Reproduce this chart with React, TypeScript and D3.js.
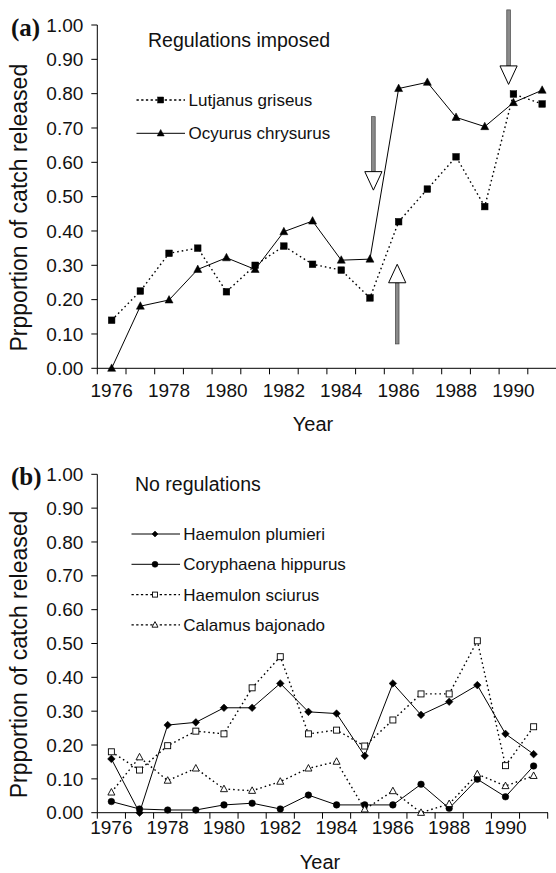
import React from 'react';
import * as d3 from 'd3';

const years = [1976, 1977, 1978, 1979, 1980, 1981, 1982, 1983, 1984, 1985, 1986, 1987, 1988, 1989, 1990, 1991];
const xTickLabels = [1976, 1978, 1980, 1982, 1984, 1986, 1988, 1990];
const yTicks = [0, 0.1, 0.2, 0.3, 0.4, 0.5, 0.6, 0.7, 0.8, 0.9, 1.0];

// Panel (a): regulations imposed
const lutjanus = [0.14, 0.225, 0.335, 0.35, 0.223, 0.30, 0.356, 0.303, 0.286, 0.205, 0.427, 0.522, 0.616, 0.471, 0.799, 0.77];
const ocyurus = [0.0, 0.181, 0.199, 0.288, 0.322, 0.288, 0.398, 0.429, 0.315, 0.318, 0.815, 0.833, 0.731, 0.704, 0.774, 0.81];

// Panel (b): no regulations
const plumieri = [0.159, 0.0, 0.259, 0.267, 0.31, 0.31, 0.382, 0.298, 0.293, 0.168, 0.382, 0.289, 0.328, 0.377, 0.233, 0.173];
const coryphaena = [0.033, 0.011, 0.008, 0.008, 0.023, 0.028, 0.011, 0.052, 0.023, 0.023, 0.023, 0.084, 0.013, 0.099, 0.047, 0.138];
const sciurus = [0.18, 0.126, 0.198, 0.241, 0.233, 0.369, 0.461, 0.233, 0.244, 0.197, 0.274, 0.351, 0.351, 0.508, 0.139, 0.254];
const calamus = [0.06, 0.164, 0.095, 0.131, 0.07, 0.065, 0.092, 0.131, 0.151, 0.01, 0.064, 0.0, 0.026, 0.114, 0.079, 0.109];

const namesA = ['Lutjanus griseus', 'Ocyurus chrysurus'];
const namesB = ['Haemulon plumieri', 'Coryphaena hippurus', 'Haemulon sciurus', 'Calamus bajonado'];

// Arrows in panel (a): fractional year, tail value, tip value
const arrowYears = [1985.12, 1985.95, 1989.83];
const arrowTails = [0.733, 0.071, 1.044];
const arrowTips = [0.519, 0.303, 0.827];

const FONT = '"Liberation Sans", Arial, Helvetica, sans-serif';
const SERIF = '"Liberation Serif", "Times New Roman", serif';

type Marker = 'fsquare' | 'ftriangle' | 'fdiamond' | 'fcircle' | 'osquare' | 'otriangle';

function drawMarker(m: Marker, x: number, y: number, s: number, key: string) {
  const open = m === 'osquare' || m === 'otriangle';
  const fill = open ? '#fff' : '#000';
  const stroke = '#000';
  const sw = open ? 0.9 : 0.5;
  if (m === 'fsquare' || m === 'osquare') {
    return <rect key={key} x={x - s / 2} y={y - s / 2} width={s} height={s} fill={fill} stroke={stroke} strokeWidth={sw} />;
  }
  if (m === 'fcircle') {
    return <circle key={key} cx={x} cy={y} r={s / 2} fill={fill} stroke={stroke} strokeWidth={sw} />;
  }
  if (m === 'fdiamond') {
    const h = s / 2;
    return <path key={key} d={`M${x},${y - h}L${x + h},${y}L${x},${y + h}L${x - h},${y}Z`} fill={fill} stroke={stroke} strokeWidth={sw} />;
  }
  const h = s / 2;
  return <path key={key} d={`M${x},${y - s * 0.55}L${x + h},${y + s * 0.38}L${x - h},${y + s * 0.38}Z`} fill={fill} stroke={stroke} strokeWidth={sw} />;
}

type Series = { values: number[]; marker: Marker; dotted: boolean; size: number; legendSize: number };

type PanelCfg = {
  top: number;
  bottom: number;
  left: number;
  bw: number;
  axisEnd: number;
  tickLabelDy: number;
  yearDy: number;
  tag: string;
  title: string;
  titleX: number;
  titleY: number;
  legendLine0: number;
  legendLine1: number;
  legendSym: number;
  legendText: number;
  legendY0: number;
  legendDy: number;
  yearX: number;
  series: Series[];
  names: string[];
  withArrows: boolean;
};

function Panel({ cfg }: { cfg: PanelCfg }) {
  const y = d3.scaleLinear().domain([0, 1]).range([cfg.bottom, cfg.top]);
  const x = d3.scaleBand<string>().domain(years.map(String)).range([cfg.left, cfg.left + cfg.bw * years.length]).padding(0);
  const bw = x.bandwidth();
  const cx = (yr: number) => (x(String(yr)) as number) + bw / 2;
  const xLin = d3.scaleLinear().domain([years[0], years[years.length - 1]]).range([cx(years[0]), cx(years[years.length - 1])]);
  const line = d3.line<number>().x((_, i) => cx(years[i])).y((v) => y(v));
  const tickXs = years.map((yr) => x(String(yr)) as number).concat([cfg.left + bw * years.length]);
  const midY = (cfg.top + cfg.bottom) / 2;

  return (
    <g>
      {/* axes */}
      <line x1={cfg.left} x2={cfg.left} y1={cfg.top} y2={cfg.bottom} stroke="#000" strokeWidth={1} />
      <line x1={cfg.left} x2={cfg.axisEnd} y1={cfg.bottom} y2={cfg.bottom} stroke="#000" strokeWidth={1} />
      {yTicks.map((t) => (
        <g key={'yt' + t}>
          <line x1={cfg.left - 6} x2={cfg.left} y1={y(t)} y2={y(t)} stroke="#000" strokeWidth={1} />
          <text x={cfg.left - 14} y={y(t)} dy="0.35em" textAnchor="end" fontFamily={FONT} fontSize={19} fill="#111">
            {t.toFixed(2)}
          </text>
        </g>
      ))}
      {tickXs.map((tx, i) => (
        <line key={'xt' + i} x1={tx} x2={tx} y1={cfg.bottom} y2={cfg.bottom + 6} stroke="#000" strokeWidth={1} />
      ))}
      {xTickLabels.map((yr) => (
        <text key={'xl' + yr} x={cx(yr)} y={cfg.bottom + cfg.tickLabelDy} textAnchor="middle" fontFamily={FONT} fontSize={19} fill="#111">
          {yr}
        </text>
      ))}
      <text x={cfg.yearX} y={cfg.bottom + cfg.yearDy} textAnchor="middle" fontFamily={FONT} fontSize={20} fill="#111">
        Year
      </text>
      <text transform={`translate(27,${midY + 11}) rotate(-90)`} textAnchor="middle" fontFamily={FONT} fontSize={23} fill="#111">
        Prpportion of catch released
      </text>
      <text x={11} y={cfg.top + 11} fontFamily={SERIF} fontWeight="bold" fontSize={25} fill="#111">
        {cfg.tag}
      </text>
      <text x={cfg.titleX} y={cfg.titleY} fontFamily={FONT} fontSize={19.5} fill="#111">
        {cfg.title}
      </text>

      {/* legend */}
      {cfg.series.map((s, i) => {
        const ly = cfg.legendY0 + i * cfg.legendDy;
        return (
          <g key={'lg' + i}>
            <line
              x1={cfg.legendLine0}
              x2={cfg.legendLine1}
              y1={ly}
              y2={ly}
              stroke="#000"
              strokeWidth={s.dotted ? 1.4 : 1}
              strokeDasharray={s.dotted ? '2.3 2.4' : undefined}
            />
            {drawMarker(s.marker, cfg.legendSym, ly, s.legendSize, 'lm' + i)}
            <text x={cfg.legendText} y={ly} dy="0.35em" fontFamily={FONT} fontSize={17} fill="#111">
              {cfg.names[i]}
            </text>
          </g>
        );
      })}

      {/* arrows */}
      {cfg.withArrows &&
        arrowYears.map((ay, i) => {
          const ax = xLin(ay);
          const tail = y(arrowTails[i]);
          const tip = y(arrowTips[i]);
          const dir = tip > tail ? 1 : -1;
          const headLen = 18.5;
          const base = tip - dir * headLen;
          const hw = 8.6;
          return (
            <g key={'ar' + i}>
              <rect x={ax - 1.8} y={Math.min(tail, base)} width={3.6} height={Math.abs(base - tail)} fill="#8a8a8a" stroke="#444" strokeWidth={0.7} />
              <path d={`M${ax},${tip}L${ax + hw},${base}L${ax - hw},${base}Z`} fill="#fff" stroke="#000" strokeWidth={1} />
            </g>
          );
        })}

      {/* series lines */}
      {cfg.series.map((s, i) => (
        <path
          key={'ln' + i}
          d={line(s.values) as string}
          fill="none"
          stroke="#000"
          strokeWidth={s.dotted ? 1.4 : 1}
          strokeDasharray={s.dotted ? '1.6 3' : undefined}
        />
      ))}
      {/* markers */}
      {cfg.series.map((s, i) => (
        <g key={'mk' + i}>{s.values.map((v, j) => drawMarker(s.marker, cx(years[j]), y(v), s.size, `m${i}-${j}`))}</g>
      ))}
    </g>
  );
}

const panelA: PanelCfg = {
  top: 25,
  bottom: 368.3,
  left: 97.3,
  bw: 28.7,
  axisEnd: 556,
  tickLabelDy: 29,
  yearDy: 63,
  tag: '(a)',
  title: 'Regulations imposed',
  titleX: 148,
  titleY: 46.5,
  legendLine0: 136.5,
  legendLine1: 185,
  legendSym: 160.7,
  legendText: 188.5,
  legendY0: 100,
  legendDy: 33.3,
  yearX: 313,
  series: [
    { values: lutjanus, marker: 'fsquare', dotted: true, size: 6.6, legendSize: 6 },
    { values: ocyurus, marker: 'ftriangle', dotted: false, size: 8, legendSize: 7 },
  ],
  names: namesA,
  withArrows: true,
};

const panelB: PanelCfg = {
  top: 474.3,
  bottom: 812.7,
  left: 97.3,
  bw: 28.15,
  axisEnd: 548,
  tickLabelDy: 21,
  yearDy: 56.5,
  tag: '(b)',
  title: 'No regulations',
  titleX: 135,
  titleY: 490.7,
  legendLine0: 131.5,
  legendLine1: 180,
  legendSym: 155,
  legendText: 183.3,
  legendY0: 534,
  legendDy: 30.3,
  yearX: 320,
  series: [
    { values: plumieri, marker: 'fdiamond', dotted: false, size: 7.6, legendSize: 6 },
    { values: coryphaena, marker: 'fcircle', dotted: false, size: 6.6, legendSize: 6 },
    { values: sciurus, marker: 'osquare', dotted: true, size: 6, legendSize: 5 },
    { values: calamus, marker: 'otriangle', dotted: true, size: 7, legendSize: 6 },
  ],
  names: namesB,
  withArrows: false,
};

export default function App() {
  return (
    <svg width={556} height={873} style={{ position: 'absolute', left: 0, top: 0, background: '#fff', display: 'block' }}>
      <rect x={0} y={0} width={556} height={873} fill="#fff" />
      <Panel cfg={panelA} />
      <Panel cfg={panelB} />
    </svg>
  );
}
